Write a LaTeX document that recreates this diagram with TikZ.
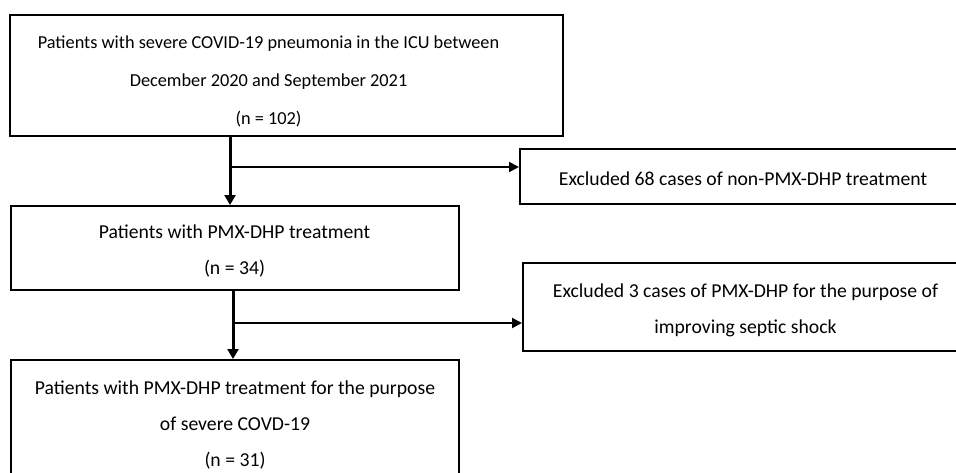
\documentclass[tikz,border=0pt]{standalone}
\usepackage{fontspec}
\setmainfont{Carlito}
\usetikzlibrary{arrows.meta}
\begin{document}
\begin{tikzpicture}[x=1pt,y=-1pt,
  frame/.style={draw=black, line width=2pt, rectangle, inner sep=0pt},
  txtA/.style={align=center, inner sep=0pt, font=\fontsize{18.3}{38}\selectfont},
  txtB/.style={align=center, inner sep=0pt, font=\fontsize{19.7}{36}\selectfont},
  arr/.style={line width=2pt, -{Triangle[length=10pt,width=10pt]}},
  varr/.style={line width=3pt, -{Triangle[length=10pt,width=11pt]}}]
\useasboundingbox (0,0) rectangle (956,472);
% frames
\node[frame, minimum width=553, minimum height=121] (b1) at (286.5,75.5) {};
\node[frame, minimum width=446, minimum height=55] (e1) at (743,176.5) {};
\node[frame, minimum width=448, minimum height=84] (b2) at (235,248) {};
\node[frame, minimum width=445, minimum height=88] (e2) at (745.5,307) {};
\node[frame, minimum width=448, minimum height=121] (b3) at (235,420.5) {};
% texts
\node[txtA] (t1) at (268.5,81.5)
  {Patients with severe COVID-19 pneumonia in the ICU between\\December 2020 and September 2021\\(n = 102)};
\node[txtB] (te1) at (743,179) {Excluded 68 cases of non-PMX-DHP treatment};
\node[txtB] (t2) at (234.5,251) {Patients with PMX-DHP treatment\\(n = 34)};
\node[txtB] (te2) at (745.5,310) {Excluded 3 cases of PMX-DHP for the purpose of\\improving septic shock};
\node[txtB] (t3) at (235,425.5)
  {Patients with PMX-DHP treatment for the purpose\\of severe COVD-19\\(n = 31)};
% connectors
\coordinate (s1) at (230,136);
\coordinate (j1) at (230,167);
\coordinate (s2) at (233,290);
\coordinate (j2) at (233,323);
\draw[varr] (s1) -- (s1 |- b2.north);
\draw[arr] (j1) -- (j1 -| e1.west);
\draw[varr] (s2) -- (s2 |- b3.north);
\draw[arr] (j2) -- (j2 -| e2.west);
\end{tikzpicture}
\end{document}
